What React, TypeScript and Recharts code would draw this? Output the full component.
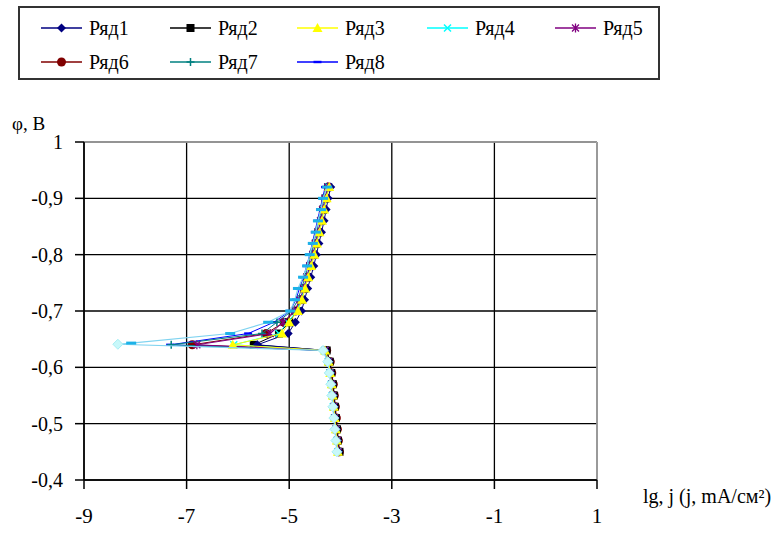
import React from "react";
import {
  CartesianGrid,
  ReferenceLine,
  Scatter,
  ScatterChart,
  XAxis,
  YAxis,
} from "recharts";

const FONT = "'Liberation Serif', 'Times New Roman', serif";

// potentials (V): lower branch, corrosion point, upper branch
const potentials = [
  -0.45, -0.47, -0.49, -0.51, -0.53, -0.55, -0.57, -0.59, -0.61, -0.63,
  -0.64,
  -0.66, -0.68, -0.7, -0.72, -0.74, -0.76, -0.78, -0.8, -0.82, -0.84, -0.86,
  -0.88, -0.9, -0.92,
];

// lg j values for each series, same order as potentials
const ryad1 = [
  -4.04, -4.06, -4.08, -4.1, -4.12, -4.14, -4.16, -4.19, -4.22, -4.29,
  -5.62,
  -5.02, -4.88, -4.76, -4.7, -4.64, -4.58, -4.52, -4.47, -4.42, -4.37, -4.32,
  -4.28, -4.24, -4.19,
];
const ryad2 = [
  -4.02, -4.05, -4.07, -4.09, -4.11, -4.13, -4.15, -4.18, -4.21, -4.27,
  -5.69,
  -5.2, -5.0, -4.85, -4.77, -4.71, -4.65, -4.59, -4.53, -4.48, -4.43, -4.38,
  -4.34, -4.29, -4.24,
];
const ryad3 = [
  -4.05, -4.07, -4.09, -4.11, -4.13, -4.15, -4.17, -4.2, -4.23, -4.3,
  -6.1,
  -5.14, -5.0, -4.83, -4.75, -4.69, -4.63, -4.57, -4.51, -4.46, -4.41, -4.36,
  -4.32, -4.27, -4.22,
];
const ryad4 = [
  -4.05, -4.07, -4.09, -4.12, -4.14, -4.16, -4.18, -4.21, -4.24, -4.31,
  -6.08,
  -5.2, -5.03, -4.85, -4.77, -4.71, -4.65, -4.59, -4.53, -4.48, -4.43, -4.38,
  -4.34, -4.29, -4.24,
];
const ryad5 = [
  -4.04, -4.06, -4.09, -4.11, -4.13, -4.15, -4.17, -4.2, -4.23, -4.3,
  -6.8,
  -5.37, -5.12, -4.9, -4.79, -4.72, -4.66, -4.6, -4.54, -4.49, -4.44, -4.39,
  -4.35, -4.3, -4.25,
];
const ryad6 = [
  -4.02, -4.04, -4.06, -4.08, -4.1, -4.12, -4.14, -4.17, -4.2, -4.27,
  -6.89,
  -5.45, -5.1, -4.88, -4.78, -4.71, -4.65, -4.59, -4.53, -4.48, -4.43, -4.38,
  -4.34, -4.29, -4.24,
];
const ryad7 = [
  -4.05, -4.07, -4.1, -4.12, -4.14, -4.16, -4.18, -4.21, -4.24, -4.31,
  -7.3,
  -5.53, -5.24, -4.95, -4.83, -4.76, -4.69, -4.63, -4.57, -4.52, -4.47, -4.42,
  -4.37, -4.33, -4.28,
];
const ryad8 = [
  -4.05, -4.08, -4.1, -4.12, -4.14, -4.16, -4.18, -4.21, -4.24, -4.31,
  -7.32,
  -5.8, -5.3, -4.98, -4.87, -4.8, -4.72, -4.66, -4.6, -4.55, -4.5, -4.45,
  -4.4, -4.35, -4.3,
];

// extra unlabelled curve: pale diamonds on the lower part, sky-blue dashes above
const extraLowPotentials = [
  -0.45, -0.47, -0.49, -0.51, -0.53, -0.55, -0.57, -0.59, -0.61, -0.63, -0.641,
];
const extraLow = [
  -4.07, -4.09, -4.11, -4.13, -4.15, -4.17, -4.19, -4.22, -4.25, -4.34, -8.34,
];
const extraUpPotentials = [
  -0.643, -0.66, -0.68, -0.7, -0.72, -0.74, -0.76, -0.78, -0.8, -0.82, -0.84,
  -0.86, -0.88, -0.9, -0.92,
];
const extraUp = [
  -8.08, -6.15, -5.41, -4.98, -4.89, -4.83, -4.73, -4.65, -4.6, -4.54, -4.48,
  -4.44, -4.38, -4.34, -4.26,
];

const xTicks = [-9, -7, -5, -3, -1, 1];
const yTicks = [-1, -0.9, -0.8, -0.7, -0.6, -0.5, -0.4];

type Kind = "diamond" | "square" | "triangle" | "x" | "star" | "circle" | "plus" | "dash" | "pale" | "sky";

const SERIES: { name: string; xs: number[]; color: string; kind: Kind }[] = [
  { name: "Ряд1", xs: ryad1, color: "#000080", kind: "diamond" },
  { name: "Ряд2", xs: ryad2, color: "#000000", kind: "square" },
  { name: "Ряд3", xs: ryad3, color: "#FFFF00", kind: "triangle" },
  { name: "Ряд4", xs: ryad4, color: "#00FFFF", kind: "x" },
  { name: "Ряд5", xs: ryad5, color: "#800080", kind: "star" },
  { name: "Ряд6", xs: ryad6, color: "#800000", kind: "circle" },
  { name: "Ряд7", xs: ryad7, color: "#008080", kind: "plus" },
  { name: "Ряд8", xs: ryad8, color: "#0000FF", kind: "dash" },
];

// drawing order (bottom to top) so the upper branch looks like the original
const DRAW_ORDER = [5, 1, 7, 6, 3, 0, 4, 2];

function zip(xs: number[], ys: number[]) {
  return xs.map((x, i) => ({ x, y: ys[i] }));
}

function Marker({ cx, cy, kind, color }: { cx: number; cy: number; kind: Kind; color: string }) {
  if (cx == null || cy == null) return null;
  switch (kind) {
    case "diamond":
      return <path d={`M${cx},${cy - 4.5}L${cx + 4.5},${cy}L${cx},${cy + 4.5}L${cx - 4.5},${cy}Z`} fill={color} />;
    case "square":
      return <rect x={cx - 4} y={cy - 4} width={8} height={8} fill={color} />;
    case "triangle":
      return <path d={`M${cx},${cy - 5}L${cx + 5},${cy + 4}L${cx - 5},${cy + 4}Z`} fill={color} />;
    case "x":
      return (
        <path d={`M${cx - 3.5},${cy - 3.5}L${cx + 3.5},${cy + 3.5}M${cx - 3.5},${cy + 3.5}L${cx + 3.5},${cy - 3.5}`} stroke={color} strokeWidth={1.5} />
      );
    case "star":
      return (
        <path
          d={`M${cx - 3.5},${cy - 3.5}L${cx + 3.5},${cy + 3.5}M${cx - 3.5},${cy + 3.5}L${cx + 3.5},${cy - 3.5}M${cx},${cy - 4.5}L${cx},${cy + 4.5}`}
          stroke={color}
          strokeWidth={1.3}
        />
      );
    case "circle":
      return <circle cx={cx} cy={cy} r={4.5} fill={color} />;
    case "plus":
      return <path d={`M${cx - 4},${cy}L${cx + 4},${cy}M${cx},${cy - 4}L${cx},${cy + 4}`} stroke={color} strokeWidth={1.5} />;
    case "dash":
      return <rect x={cx - 4} y={cy - 1.2} width={8} height={2.4} fill={color} />;
    case "pale":
      return (
        <path d={`M${cx},${cy - 5}L${cx + 5},${cy}L${cx},${cy + 5}L${cx - 5},${cy}Z`} fill="#C8F8FA" stroke="#A6EEF4" strokeWidth={1} />
      );
    case "sky":
      return <rect x={cx - 5} y={cy - 1.5} width={10} height={3} fill={color} />;
  }
  return null;
}

function fmtY(v: number) {
  if (v === -1) return "1";
  return String(v).replace(".", ",");
}

function LegendBox() {
  const cols = [41, 170, 297, 427, 555];
  const rows = [28, 62];
  return (
    <svg width={783} height={90} style={{ position: "absolute", left: 0, top: 0 }}>
      <rect x={19} y={7} width={640} height={72} fill="#fff" stroke="#333" strokeWidth={2} />
      {SERIES.map((s, i) => {
        const x0 = cols[i % 5];
        const y = rows[Math.floor(i / 5)];
        return (
          <g key={s.name}>
            <line x1={x0} x2={x0 + 41} y1={y} y2={y} stroke={s.color} strokeWidth={1.5} />
            <Marker cx={x0 + 20.5} cy={y} kind={s.kind} color={s.color} />
            <text x={x0 + 48} y={y + 7} fontSize={20} fontFamily={FONT} fill="#000">
              {s.name}
            </text>
          </g>
        );
      })}
    </svg>
  );
}

export default function App() {
  const extraAll = [...zip(extraLow, extraLowPotentials), ...zip(extraUp, extraUpPotentials)];
  return (
    <div style={{ position: "absolute", left: 0, top: 0, width: 783, height: 534, background: "#fff", fontFamily: FONT }}>
      <LegendBox />
      <ScatterChart
        width={783}
        height={534}
        margin={{ top: 142, right: 186, bottom: 4, left: 14 }}
        style={{ position: "absolute", left: 0, top: 0 }}
      >
        <CartesianGrid stroke="#000" strokeWidth={1.3} horizontal vertical />
        <XAxis
          type="number"
          dataKey="x"
          domain={[-9, 1]}
          ticks={xTicks}
          height={50}
          tickSize={9}
          tickMargin={19}
          axisLine={{ stroke: "#000", strokeWidth: 1.5 }}
          tickLine={{ stroke: "#000", strokeWidth: 1.5 }}
          tick={{ fill: "#000", fontSize: 21, fontFamily: FONT }}
          allowDataOverflow
        />
        <YAxis
          type="number"
          dataKey="y"
          domain={[-1, -0.4]}
          ticks={yTicks}
          reversed
          width={70}
          tickSize={9}
          tickMargin={12}
          tickFormatter={fmtY}
          axisLine={{ stroke: "#000", strokeWidth: 1.5 }}
          tickLine={{ stroke: "#000", strokeWidth: 1.5 }}
          tick={{ fill: "#000", fontSize: 20, fontFamily: FONT }}
          allowDataOverflow
        />
        <ReferenceLine y={-1} stroke="#b0b0b0" strokeWidth={1.5} />
        <ReferenceLine x={1} stroke="#b0b0b0" strokeWidth={1.5} />
        {DRAW_ORDER.map((i) => {
          const s = SERIES[i];
          return (
            <Scatter
              key={s.name}
              name={s.name}
              data={zip(s.xs, potentials)}
              fill={s.color}
              line={{ stroke: s.color, strokeWidth: 1 }}
              isAnimationActive={false}
              shape={(p: any) => <Marker cx={p.cx} cy={p.cy} kind={s.kind} color={s.color} />}
            />
          );
        })}
        <Scatter
          name="extra-line"
          data={extraAll}
          fill="#7FD3F0"
          line={{ stroke: "#7FD3F0", strokeWidth: 1.2 }}
          isAnimationActive={false}
          shape={() => <g />}
        />
        <Scatter
          name="extra-low"
          data={zip(extraLow, extraLowPotentials)}
          fill="#C8F8FA"
          isAnimationActive={false}
          shape={(p: any) => <Marker cx={p.cx} cy={p.cy} kind="pale" color="#C8F8FA" />}
        />
        <Scatter
          name="extra-up"
          data={zip(extraUp, extraUpPotentials)}
          fill="#1CB2E8"
          isAnimationActive={false}
          shape={(p: any) => <Marker cx={p.cx} cy={p.cy} kind="sky" color="#1CB2E8" />}
        />
      </ScatterChart>
      <div style={{ position: "absolute", left: 12, top: 113, fontSize: 19, fontFamily: FONT, color: "#000", whiteSpace: "nowrap" }}>
        φ, В
      </div>
      <div style={{ position: "absolute", left: 643, top: 485, fontSize: 20, fontFamily: FONT, color: "#000", whiteSpace: "nowrap" }}>
        lg, j (j, mA/см²)
      </div>
    </div>
  );
}
